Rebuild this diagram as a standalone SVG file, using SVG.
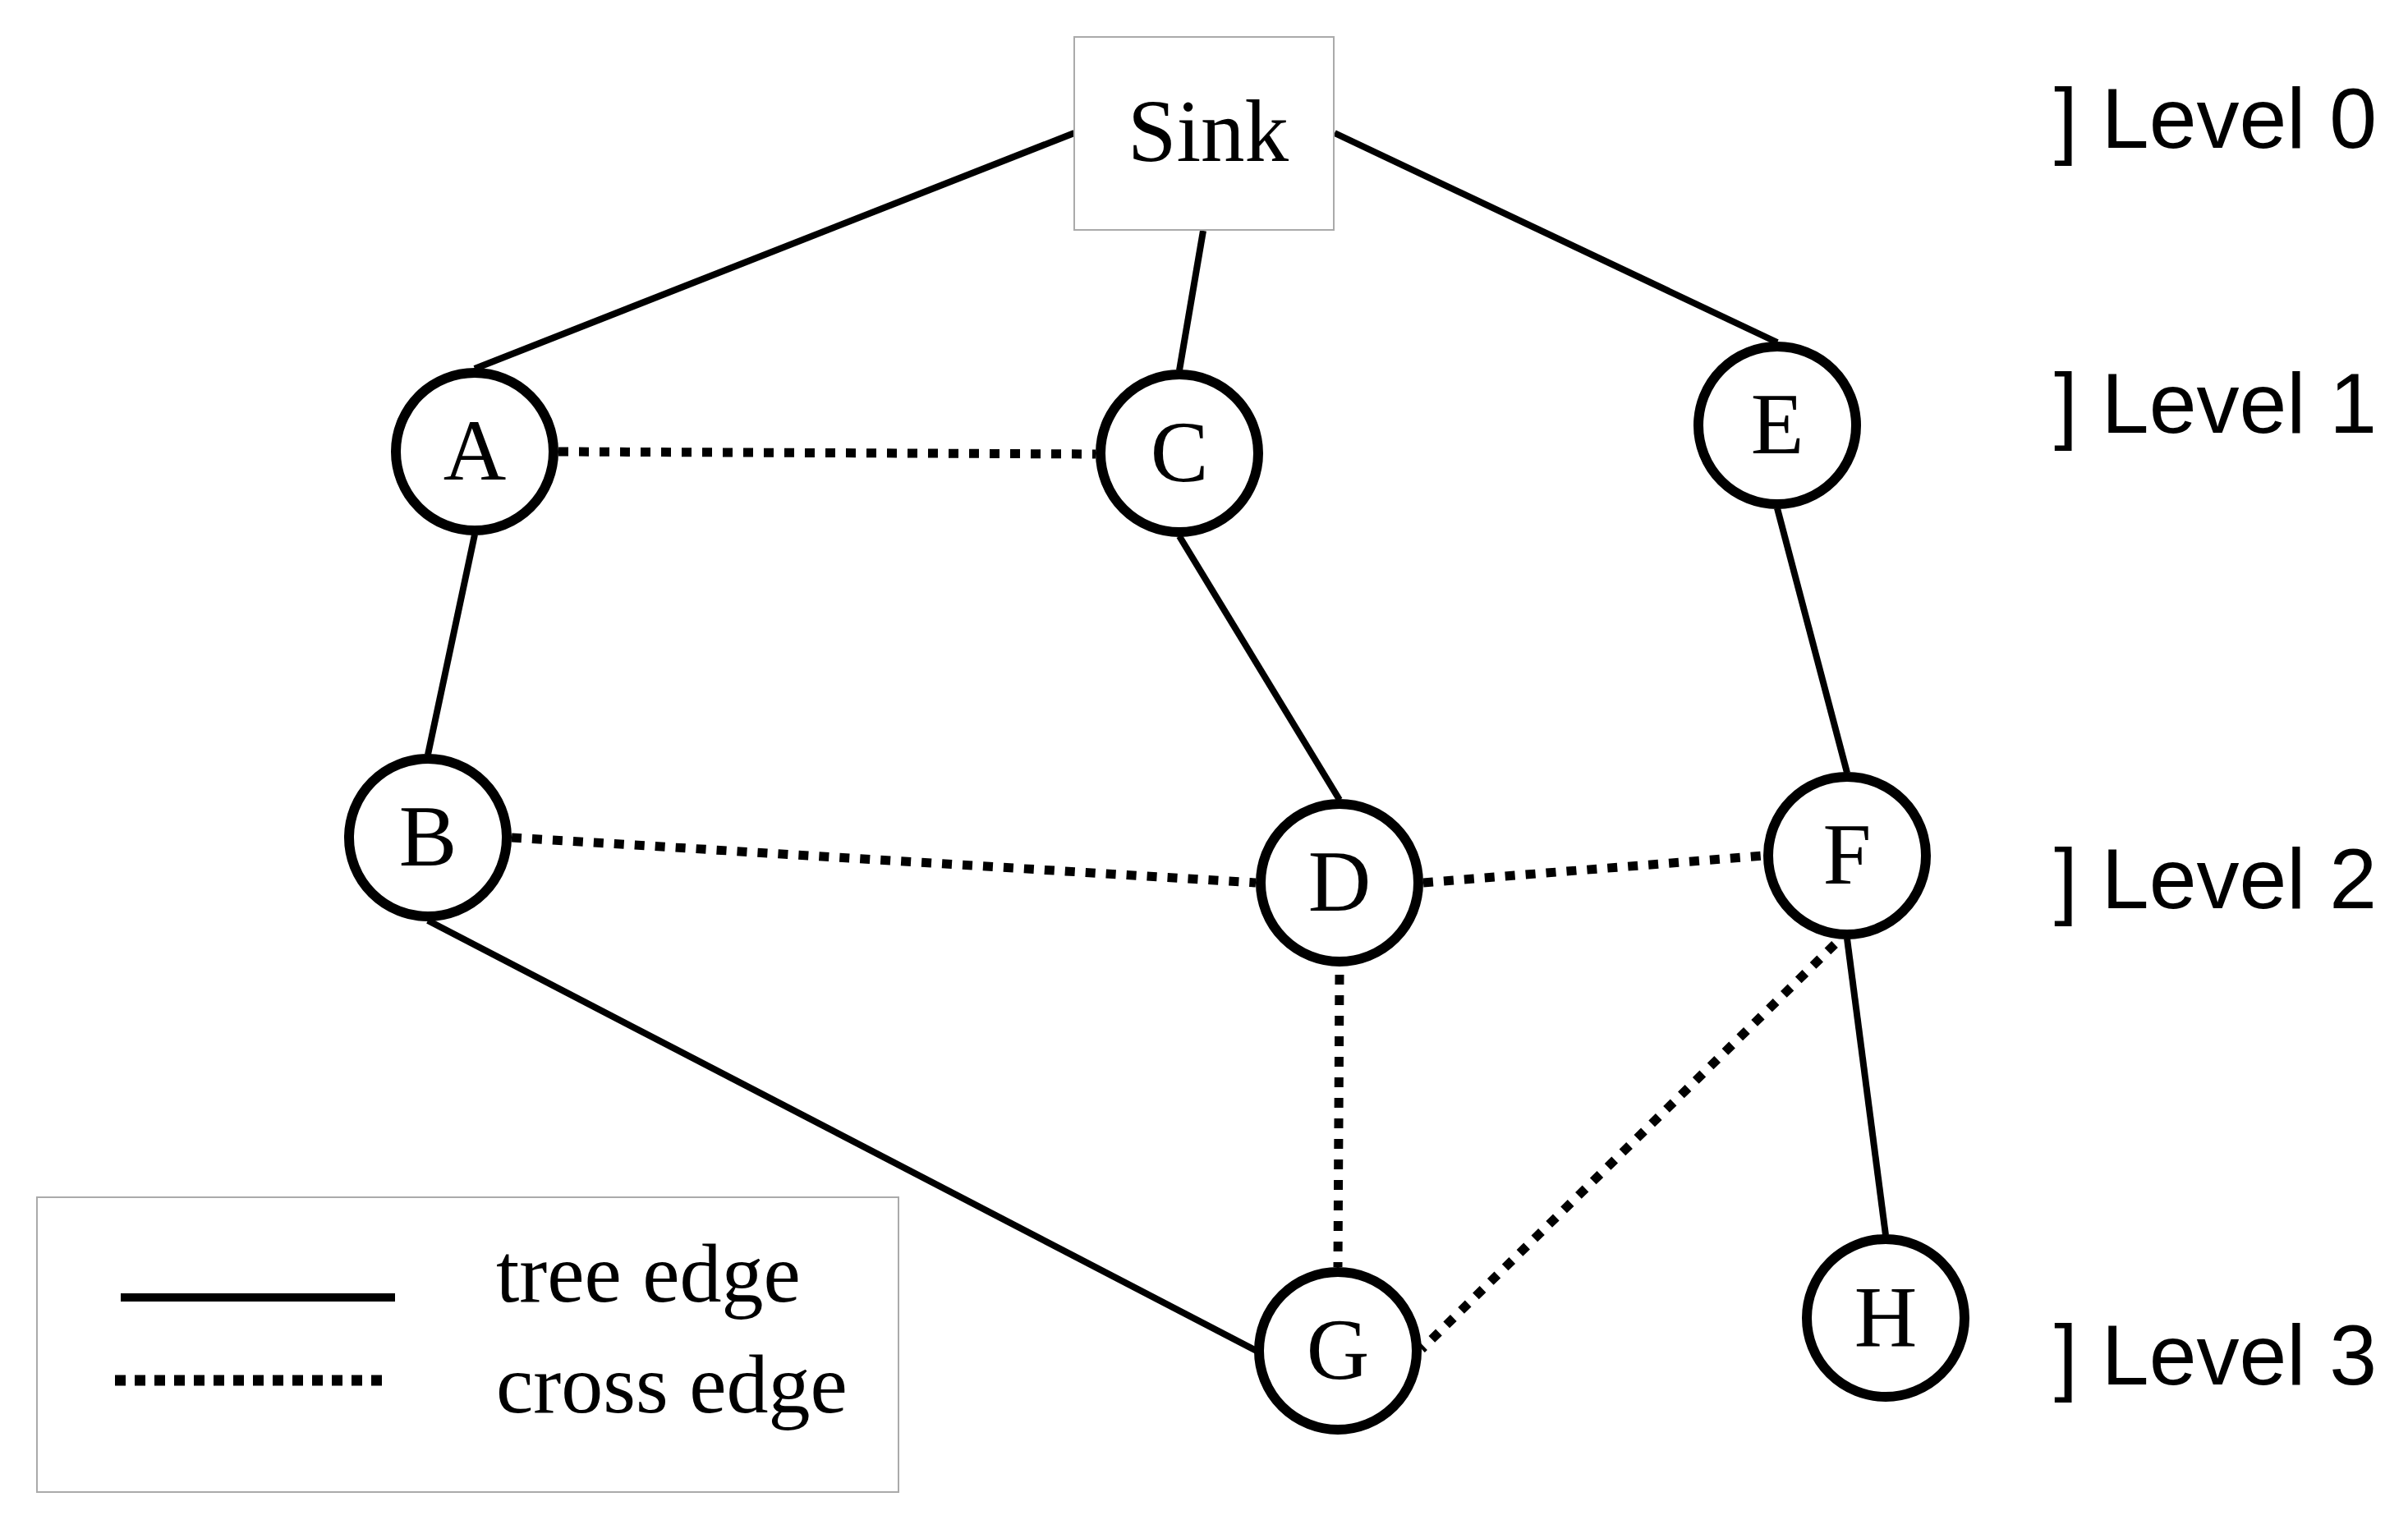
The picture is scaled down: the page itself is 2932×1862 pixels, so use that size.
<svg xmlns="http://www.w3.org/2000/svg" width="2932" height="1862" viewBox="0 0 2932 1862">
<style>
.tree{stroke:#000;stroke-width:8;fill:none}
.cross{stroke:#000;stroke-width:11;fill:none;stroke-dasharray:12 13}
.node circle{fill:#fff;stroke:#000;stroke-width:12}
.lbl{font-family:"Liberation Serif","Times New Roman",serif;font-size:106px;text-anchor:middle;fill:#000}
.lvl{font-family:"Liberation Sans",Arial,sans-serif;font-size:104px;fill:#000}
.box{fill:#fff;stroke:#aaa;stroke-width:2}
</style>
<rect width="2932" height="1862" fill="#fff"/>
<g id="connectors">
<line class="tree" x1="1308" y1="162" x2="578" y2="449"/>
<line class="tree" x1="1465" y1="281" x2="1436" y2="451"/>
<line class="tree" x1="1625" y1="162" x2="2164" y2="417"/>
<line class="tree" x1="578" y1="651" x2="521" y2="919"/>
<line class="tree" x1="1436" y1="653" x2="1631" y2="974"/>
<line class="tree" x1="2164" y1="619" x2="2249" y2="941"/>
<line class="tree" x1="2249" y1="1143" x2="2296" y2="1504"/>
<line class="tree" x1="521" y1="1121" x2="1530" y2="1645"/>
<line class="cross" x1="680" y1="550" x2="1334" y2="553"/>
<line class="cross" x1="623" y1="1020" x2="1529" y2="1075"/>
<line class="cross" x1="1733" y1="1075" x2="2147" y2="1042"/>
<line class="cross" x1="1631" y1="1187" x2="1629" y2="1543"/>
<line class="cross" x1="2234" y1="1150" x2="1731" y2="1643"/>
</g>
<g id="sink">
<rect class="box" x="1308" y="45" width="316" height="235"/>
<text class="lbl" x="1471" y="196" style="font-size:107px">Sink</text>
</g>
<g id="nodeA" class="node"><circle cx="578" cy="550" r="96"/><text class="lbl" x="578" y="584">A</text></g>
<g id="nodeC" class="node"><circle cx="1436" cy="552" r="96"/><text class="lbl" x="1436" y="586">C</text></g>
<g id="nodeE" class="node"><circle cx="2164" cy="518" r="96"/><text class="lbl" x="2164" y="552">E</text></g>
<g id="nodeB" class="node"><circle cx="521" cy="1020" r="96"/><text class="lbl" x="521" y="1054">B</text></g>
<g id="nodeD" class="node"><circle cx="1631" cy="1075" r="96"/><text class="lbl" x="1631" y="1109">D</text></g>
<g id="nodeF" class="node"><circle cx="2249" cy="1042" r="96"/><text class="lbl" x="2249" y="1076">F</text></g>
<g id="nodeG" class="node"><circle cx="1629" cy="1645" r="96"/><text class="lbl" x="1629" y="1679">G</text></g>
<g id="nodeH" class="node"><circle cx="2296" cy="1605" r="96"/><text class="lbl" x="2296" y="1639">H</text></g>
<g id="levels">
<text class="lvl" x="2501" y="180">] Level 0</text>
<text class="lvl" x="2501" y="527">] Level 1</text>
<text class="lvl" x="2501" y="1106">] Level 2</text>
<text class="lvl" x="2501" y="1686">] Level 3</text>
</g>
<g id="legend">
<rect class="box" x="45" y="1458" width="1049" height="359"/>
<line x1="147" y1="1580" x2="481" y2="1580" stroke="#000" stroke-width="10"/>
<line x1="140" y1="1681" x2="475" y2="1681" stroke="#000" stroke-width="13" stroke-dasharray="13 11"/>
<text class="lbl" x="604" y="1585" style="text-anchor:start;font-size:102px">tree edge</text>
<text class="lbl" x="604" y="1720" style="text-anchor:start;font-size:102px">cross edge</text>
</g>
</svg>
